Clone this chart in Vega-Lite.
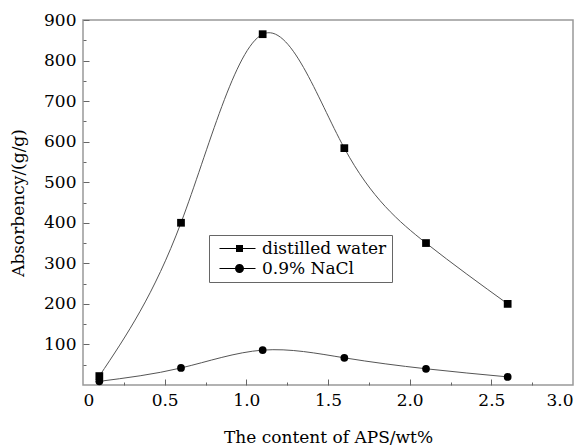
{
  "$schema": "https://vega.github.io/schema/vega-lite/v6.json",
  "width": 490,
  "height": 365,
  "autosize": {"type": "none"},
  "padding": {"left": 83, "top": 20, "right": 15, "bottom": 62},
  "background": "white",
  "config": {
    "font": "DejaVu Serif",
    "view": {"stroke": "#999999", "strokeWidth": 1.5},
    "axis": {
      "tickColor": "#666666",
      "tickWidth": 1,
      "grid": false,
      "labelFont": "DejaVu Serif",
      "labelFontSize": 17,
      "labelColor": "black",
      "titleFont": "DejaVu Serif",
      "titleFontSize": 17,
      "titleFontWeight": "normal",
      "titleColor": "black"
    },
    "legend": {
      "labelFont": "DejaVu Serif",
      "labelFontSize": 17,
      "labelColor": "black"
    }
  },
  "data": {
    "values": [
      {"aps": 0.1, "absorbency": 22, "series": "distilled water"},
      {"aps": 0.6, "absorbency": 400, "series": "distilled water"},
      {"aps": 1.1, "absorbency": 865, "series": "distilled water"},
      {"aps": 1.6, "absorbency": 584, "series": "distilled water"},
      {"aps": 2.1, "absorbency": 350, "series": "distilled water"},
      {"aps": 2.6, "absorbency": 200, "series": "distilled water"},
      {"aps": 0.1, "absorbency": 9, "series": "0.9% NaCl"},
      {"aps": 0.6, "absorbency": 42, "series": "0.9% NaCl"},
      {"aps": 1.1, "absorbency": 86, "series": "0.9% NaCl"},
      {"aps": 1.6, "absorbency": 67, "series": "0.9% NaCl"},
      {"aps": 2.1, "absorbency": 40, "series": "0.9% NaCl"},
      {"aps": 2.6, "absorbency": 20, "series": "0.9% NaCl"}
    ]
  },
  "resolve": {
    "axis": {"x": "independent", "y": "independent"}
  },
  "layer": [
    {
      "mark": {"type": "line", "interpolate": "natural", "color": "#555555", "strokeWidth": 1},
      "encoding": {
        "x": {
          "field": "aps",
          "type": "quantitative",
          "scale": {"domain": [0, 3], "nice": false, "zero": false},
          "axis": {
            "orient": "bottom",
            "title": "The content of APS/wt%",
            "values": [0, 0.5, 1, 1.5, 2, 2.5, 3],
            "labelExpr": "datum.value == 0 ? '0\u00a0\u00a0\u00a0\u00a0' : format(datum.value, '.1f')",
            "ticks": false,
            "domain": false,
            "labelPadding": 7,
            "titlePadding": 21
          }
        },
        "y": {
          "field": "absorbency",
          "type": "quantitative",
          "scale": {"domain": [0, 900], "nice": false},
          "axis": {
            "orient": "left",
            "title": "Absorbency/(g/g)",
            "values": [100, 200, 300, 400, 500, 600, 700, 800, 900],
            "ticks": false,
            "domain": false,
            "labelPadding": 7,
            "titlePadding": 16
          }
        },
        "detail": {"field": "series"}
      }
    },
    {
      "transform": [{"filter": "datum.series == 'distilled water'"}],
      "mark": {"type": "point", "shape": "square", "filled": true, "size": 60, "color": "black", "opacity": 1},
      "encoding": {
        "x": {
          "field": "aps",
          "type": "quantitative",
          "axis": {
            "orient": "top",
            "offset": -365,
            "title": null,
            "values": [0.5, 1, 1.5, 2, 2.5],
            "labels": false,
            "domain": false,
            "tickSize": 6
          }
        },
        "y": {
          "field": "absorbency",
          "type": "quantitative",
          "axis": {
            "orient": "right",
            "offset": -490,
            "title": null,
            "values": [100, 200, 300, 400, 500, 600, 700, 800, 900],
            "labels": false,
            "domain": false,
            "tickSize": 6
          }
        }
      }
    },
    {
      "transform": [{"filter": "datum.series == '0.9% NaCl'"}],
      "mark": {"type": "point", "shape": "circle", "filled": true, "size": 60, "color": "black", "opacity": 1},
      "encoding": {
        "x": {
          "field": "aps",
          "type": "quantitative",
          "axis": {
            "orient": "top",
            "offset": -365,
            "title": null,
            "values": [0.25, 0.75, 1.25, 1.75, 2.25, 2.75],
            "labels": false,
            "domain": false,
            "tickSize": 3
          }
        },
        "y": {
          "field": "absorbency",
          "type": "quantitative",
          "axis": {
            "orient": "right",
            "offset": -490,
            "title": null,
            "values": [50, 150, 250, 350, 450, 550, 650, 750, 850],
            "labels": false,
            "domain": false,
            "tickSize": 3
          }
        }
      }
    },
    {
      "transform": [{"filter": "false"}],
      "mark": {"type": "point", "filled": true, "size": 100, "color": "black", "opacity": 1},
      "encoding": {
        "shape": {
          "field": "series",
          "type": "nominal",
          "scale": {
            "domain": ["distilled water", "0.9% NaCl"],
            "range": ["M-0.6,-0.12H6.6V0.12H-0.6ZM2.7,-0.7H4.1V0.7H2.7Z", "M-0.6,-0.12H6.6V0.12H-0.6ZM2.5,0A0.9,0.9,0,1,1,4.3,0A0.9,0.9,0,1,1,2.5,0Z"]
          },
          "legend": {
            "title": null,
            "orient": "none",
            "legendX": 126,
            "legendY": 215,
            "padding": 5,
            "strokeColor": "#666666",
            "fillColor": "white",
            "labelFont": "DejaVu Serif",
            "labelFontSize": 17,
            "labelColor": "black",
            "labelOffset": 31,
            "rowPadding": 2,
            "symbolSize": 100,
            "symbolFillColor": "black",
            "symbolOpacity": 1
          }
        }
      }
    }
  ]
}
